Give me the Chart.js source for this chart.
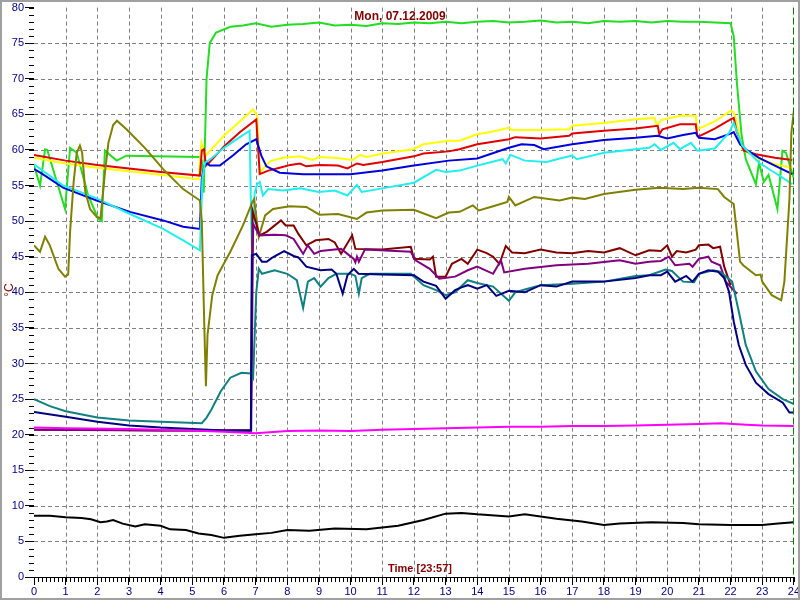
<!DOCTYPE html>
<html>
<head>
<meta charset="utf-8">
<script src="https://cdn.jsdelivr.net/npm/chart.js@4.4.1/dist/chart.umd.min.js"></script>
<style>
  html, body { margin: 0; padding: 0; background: #fff; }
  #wrap { width: 800px; height: 600px; }
</style>
</head>
<body>
<div id="wrap"><canvas id="tempChart" width="800" height="600"></canvas></div>
<script>
// Nilai: [jam, suhu °C]
const chartTitle = 'Mon, 07.12.2009';
const timeLabel = 'Time [23:57]';
const xTicks = [0, 24, 1];   // min, max, step
const yTicks = [0, 80, 5];

const greenPts = [[0,57.8],[0.19,55],[0.35,60.1],[0.42,60],[0.98,51.7],[1.14,60.3],[1.35,59.6],[1.71,53.6],[2.03,50.3],[2.14,50],[2.24,59.9],[2.61,58.5],[2.92,59.2],[3.86,59.1],[5.24,59],[5.3,58.5],[5.36,54],[5.45,70],[5.55,75],[5.75,76.5],[6.2,77.3],[6.6,77.5],[7,77.8],[7.5,77.3],[8,77.6],[8.5,77.7],[9,77.9],[9.5,77.5],[10,77.6],[10.5,77.4],[11,77.8],[11.5,77.7],[12,77.9],[12.5,77.8],[13,78],[13.5,77.8],[14,78],[14.5,78.1],[15,77.9],[15.5,78],[16,78.2],[16.5,77.9],[17,78],[17.5,77.8],[18,78.1],[18.5,78],[19,78.1],[19.5,77.9],[20,78.1],[20.5,78],[21,78],[21.5,77.9],[22,77.8],[22.1,76],[22.2,69.4],[22.35,62],[22.48,58.7],[22.8,55.2],[22.9,58.2],[23.05,55.5],[23.2,56.5],[23.48,51.7],[23.64,59.9],[23.75,59.6],[24,56]];
const yellowPts = [[0,58.9],[1,58.1],[2,57.5],[3,57],[4,56.5],[5.2,55.9],[5.29,61],[5.36,60],[5.45,59.3],[5.5,59.6],[6,62],[6.5,64],[6.92,65.7],[7.05,64.8],[7.13,56.8],[7.45,58.4],[7.86,58.9],[8.4,59.1],[8.8,58.6],[9,59],[9.5,58.9],[10.07,58.6],[10.3,59.3],[10.5,59],[11.02,59.5],[11.97,60.1],[12.3,60.8],[13.1,61.3],[13.44,61.3],[14,62.2],[14.5,62.6],[15,63.1],[15.1,62.8],[16,62.8],[16.9,62.9],[17,63.4],[18,63.8],[19,64.3],[19.6,64.5],[19.68,63.4],[19.8,64.2],[20.4,64.8],[20.9,64.8],[20.95,62.9],[21,63],[21.5,64],[22,65.5],[22.1,65.3],[22.2,63.8],[22.37,60.1],[22.8,58.9],[23.4,58],[23.95,57.5]];
const redPts = [[0,59.3],[1,58.5],[2,57.9],[3,57.4],[4,56.9],[5.24,56.4],[5.3,59.9],[5.37,60.1],[5.43,57.8],[5.55,58.3],[6,60.5],[6.5,62.5],[7.02,64.3],[7.13,56.6],[7.4,57.1],[7.76,57.5],[8.1,57.9],[8.4,58.1],[8.6,57.7],[9,57.9],[9.6,57.8],[9.9,57.4],[10.2,58.1],[10.4,57.9],[11,58.3],[12,59.1],[12.3,59.5],[13.1,59.8],[13.44,60.1],[14,60.8],[15,61.5],[15.2,61.8],[16,61.6],[16.9,62],[17,62.3],[18,62.7],[19,63],[19.7,63.4],[19.75,62.2],[19.85,62.9],[20.4,63.6],[20.9,63.6],[20.95,62],[21,61.9],[21.5,63],[22,64.3],[22.1,64.5],[22.2,62.5],[22.42,59.9],[22.8,59.4],[23.4,58.9],[23.95,58.6]];
const bluePts = [[0,57.3],[0.2,56.8],[0.92,54.7],[1.98,52.9],[3.03,51.3],[4.08,50.1],[4.71,49.2],[5.24,48.9],[5.3,56],[5.38,57.7],[5.45,58.2],[5.55,57.8],[5.87,57.8],[6.3,59.3],[6.7,60.8],[7.02,61.5],[7.18,59.2],[7.34,57.7],[7.76,56.8],[8.5,56.6],[9.2,56.6],[10,56.6],[11,57.1],[12,57.8],[13.1,58.5],[14,58.8],[15,60.3],[15.4,60.8],[15.8,60.7],[16.1,60.1],[17,60.8],[18,61.4],[19,61.7],[19.7,62],[20,61.6],[20.5,62.1],[20.9,62.4],[21,61.7],[21.5,61.5],[22,62.3],[22.1,62.5],[22.3,60.8],[22.48,60.1],[22.9,58.9],[23.4,57.8],[23.95,56.6]];
const cyanPts = [[0,58],[0.92,55],[1.98,53.2],[3.03,51],[4.08,48.9],[4.71,47.3],[5.24,45.9],[5.32,56],[5.4,58.2],[5.6,58.8],[6,60.3],[6.5,61.8],[6.81,62.7],[6.86,50],[6.89,44],[6.97,54],[7.05,55.2],[7.13,55.5],[7.23,53.6],[7.4,54.5],[7.86,54.3],[8.4,54.6],[9,54.1],[9.5,54.3],[9.9,53.6],[10.2,55.1],[10.35,54.1],[11,54.6],[12,55.4],[12.7,57.2],[13,56.9],[13.44,57.1],[14,57.8],[14.8,58.7],[14.9,58.1],[15.05,59.3],[15.5,58.5],[16.2,58.3],[16.6,58.8],[17,59.2],[17.15,58.7],[18,59.6],[19,60.1],[19.43,60.3],[19.6,60.8],[19.8,60],[20.2,61],[20.4,60.1],[20.75,61],[20.95,59.9],[21.5,60.2],[21.95,62.4],[22.1,63.8],[22.37,60.6],[22.9,58.2],[23.4,56.8],[23.95,55.2]];
const olivePts = [[0,46.6],[0.19,45.7],[0.35,47.8],[0.5,46.6],[0.77,43.3],[0.98,42.2],[1.08,42.5],[1.14,48.5],[1.25,55.4],[1.35,59.6],[1.45,60.6],[1.52,59.6],[1.62,54.1],[1.77,51.7],[1.98,50.6],[2.1,50.4],[2.24,56.8],[2.35,61],[2.5,63.5],[2.62,64.1],[2.92,62.9],[3.5,60.3],[4.08,57.3],[4.71,54.5],[5.24,52.9],[5.3,50],[5.38,35],[5.43,26.8],[5.48,34],[5.63,39.6],[5.8,42.4],[6.2,45.7],[6.6,49.4],[6.9,52.7],[6.95,53.1],[7.1,47.8],[7.3,50.8],[7.55,51.7],[8.07,52.1],[8.6,52],[9.02,50.9],[9.6,51],[10.2,50.3],[10.5,51.2],[11,51.5],[12,51.6],[12.7,50.4],[13.1,51.2],[13.44,51.3],[13.86,52.2],[14.05,51.5],[14.5,52.1],[14.95,52.7],[15,53.4],[15.2,52.2],[15.8,53.4],[16.6,52.9],[17,53.3],[17.4,53.1],[18,53.8],[19,54.4],[19.75,54.7],[20.5,54.5],[21,54.7],[21.6,54.5],[21.8,53.4],[22.1,52.4],[22.3,44.3],[22.4,43.8],[22.8,42.4],[22.95,42.5],[23,41.5],[23.3,39.6],[23.6,38.9],[23.7,41.5],[23.86,53.1],[23.92,62.4],[24,65.5]];
const maroonPts = [[0,20.7],[2,20.7],[4,20.6],[6.85,20.6],[6.9,51.5],[7.12,48],[7.35,48.5],[7.8,50.1],[7.95,49.4],[8.2,49.4],[8.35,48.2],[8.6,46.6],[8.9,47.3],[9.3,47.5],[9.5,47],[9.7,45.4],[10.05,48],[10.15,46.1],[11,46],[11.9,46.4],[12,44.7],[12.5,44.6],[12.6,45],[12.7,42.2],[13,42.2],[13.2,44],[13.5,44.7],[13.7,44],[14,46],[14.3,45.5],[14.5,45],[14.7,44],[14.9,46.5],[15.1,45.6],[15.5,45.5],[16,46],[16.5,45.6],[17,45.5],[17.5,45.8],[18,45.6],[18.5,46.2],[19,45.2],[19.43,45.9],[19.8,45.8],[20,46.6],[20.15,45],[20.3,45.8],[20.6,45.6],[20.9,46],[21,46.6],[21.3,46.7],[21.45,46.2],[21.67,46.4],[21.8,43.6],[22,41]];
const purplePts = [[0,20.7],[4,20.6],[6.86,20.6],[6.92,49.6],[7.12,48],[7.6,48.1],[7.95,48],[8.2,47.5],[8.5,45.4],[8.65,46.6],[8.85,45.4],[9.05,45.8],[9.5,46],[9.7,46.1],[10.1,44.7],[10.15,44.2],[10.2,45],[10.26,44.3],[10.45,46],[11.9,45.7],[12.05,44.5],[12.5,43.3],[12.8,41.9],[13.3,42.2],[13.7,43.1],[14,43.6],[14.5,42.6],[14.75,44.5],[14.85,42.8],[15.5,43.3],[16.5,43.8],[17.5,44],[18.5,44.5],[19,44],[19.43,44.3],[19.8,44.4],[20.05,45],[20.25,43.8],[20.7,44],[20.8,43.6],[21,44.7],[21.3,45],[21.4,44.3],[21.67,43.8],[21.85,41.5],[22.2,39.8]];
const navyPts = [[0,23.2],[1,22.5],[2,21.8],[3,21.3],[4,21],[5,20.8],[6,20.6],[6.85,20.6],[6.88,45.2],[7.02,45.4],[7.2,44.3],[7.35,44.3],[7.5,44.8],[7.9,45.8],[8.2,45.1],[8.35,44.9],[8.6,43.6],[9.05,43.1],[9.4,43.2],[9.55,42.6],[9.75,39.8],[9.9,42.4],[10.1,43.3],[10.25,42.6],[11,42.5],[12,42.4],[12.3,41.5],[12.7,40.9],[13,39.1],[13.3,40.3],[13.5,40.7],[13.7,41],[14,40.5],[14.3,41],[14.6,39.5],[15,40.2],[15.5,40],[16,41],[16.5,40.8],[17,41.5],[18,41.5],[19,42],[19.43,42.4],[19.8,42.4],[20,42.9],[20.25,41.5],[20.6,42.3],[20.8,41.5],[21,42.6],[21.3,43.1],[21.6,42.9],[21.8,42],[21.95,40.1],[22.1,35.9],[22.26,32.6],[22.48,29.8],[22.8,27.3],[23.2,25.7],[23.65,24.5],[23.86,23.1],[24,23.1]];
const tealPts = [[0,25],[0.5,24],[1,23.3],[2,22.4],[3,22],[4,21.8],[5.3,21.6],[5.45,22.4],[5.6,23.5],[5.9,26.1],[6.2,28],[6.55,28.7],[6.85,28.6],[6.92,28],[7.02,40],[7.1,43.3],[7.2,42.6],[7.6,43.1],[8,42.6],[8.3,41.7],[8.5,37.8],[8.65,41.5],[8.85,42],[9.05,40.8],[9.3,42],[9.55,42.6],[10,42.6],[10.15,42.3],[10.26,39.8],[10.35,42],[10.6,42.6],[11.9,42.6],[12.3,41],[12.7,40.3],[13,39.6],[13.3,40],[13.7,41.7],[14,41.3],[14.5,40.8],[14.7,40],[15,38.8],[15.2,40],[15.5,40.4],[16,41],[17,41.2],[18,41.5],[19,42.3],[19.43,42.4],[19.95,43.2],[20.15,43],[20.5,41.5],[20.85,41.4],[21,42.6],[21.45,43.1],[21.67,42.9],[22.05,41.5],[22.26,37.3],[22.48,32.6],[22.8,28.9],[23.2,26.4],[23.65,25],[24,24.3]];
const magentaPts = [[0,21],[1,20.9],[3,20.8],[5,20.6],[6,20.4],[7,20.2],[8,20.5],[9,20.6],[10,20.5],[11,20.7],[12,20.8],[13,20.9],[14,21],[15,21.1],[16,21.1],[17,21.2],[18,21.2],[19,21.3],[20,21.4],[21,21.5],[21.7,21.6],[22.5,21.4],[23,21.3],[24,21.2]];
const blackPts = [[0,8.6],[0.5,8.6],[1,8.4],[1.5,8.3],[1.8,8.1],[2.1,7.7],[2.3,7.8],[2.5,8],[2.8,7.5],[3.2,7.1],[3.5,7.4],[4,7.2],[4.3,6.7],[4.8,6.6],[5.2,6.1],[5.6,5.9],[6,5.5],[6.5,5.8],[7,6],[7.5,6.2],[8,6.6],[8.7,6.5],[9.5,6.8],[10.5,6.7],[11.5,7.2],[12.3,8],[13,8.9],[13.5,9],[14,8.8],[15,8.5],[15.5,8.8],[16.5,8.2],[17.3,7.8],[18,7.3],[18.5,7.5],[19.5,7.7],[20.5,7.6],[21,7.4],[22,7.3],[23,7.3],[23.5,7.5],[24,7.7]];

// Susunan: indeks 0 dilukis paling atas
const seriesList = [
    { pts: blackPts,   color: '#000000' },
    { pts: magentaPts, color: '#ff00ff' },
    { pts: navyPts,    color: '#000080' },
    { pts: tealPts,    color: '#108080' },
    { pts: purplePts,  color: '#800080' },
    { pts: maroonPts,  color: '#800000' },
    { pts: olivePts,   color: '#808000' },
    { pts: cyanPts,    color: '#22eeee' },
    { pts: bluePts,    color: '#0000dd' },
    { pts: redPts,     color: '#e00000' },
    { pts: yellowPts,  color: '#ffff00' },
    { pts: greenPts,   color: '#22dd22' }
];

const FONT = '"Liberation Sans", Arial, sans-serif';

// Grid putus-putus, tick kecil, label dan bingkai
const decorPlugin = {
    id: 'decor',
    beforeDatasetsDraw(chart) {
        const { ctx, chartArea: a, scales: { x, y } } = chart;
        ctx.save();
        ctx.strokeStyle = '#808080';
        ctx.lineWidth = 1;
        ctx.setLineDash([4, 3]);
        for (let h = xTicks[0] + xTicks[2]; h < xTicks[1]; h += xTicks[2]) {
            const px = Math.round(x.getPixelForValue(h)) + 0.5;
            ctx.beginPath(); ctx.moveTo(px, a.top); ctx.lineTo(px, a.bottom); ctx.stroke();
        }
        for (let v = yTicks[0] + yTicks[2]; v < yTicks[1]; v += yTicks[2]) {
            const py = Math.round(y.getPixelForValue(v)) + 0.5;
            ctx.beginPath(); ctx.moveTo(a.left, py); ctx.lineTo(a.right, py); ctx.stroke();
        }
        ctx.restore();
    },
    afterDraw(chart) {
        const { ctx, chartArea: a, scales: { x, y } } = chart;
        ctx.save();
        // garis paksi x
        ctx.strokeStyle = '#000';
        ctx.lineWidth = 1;
        ctx.beginPath();
        ctx.moveTo(a.left, a.bottom + 0.5); ctx.lineTo(a.right, a.bottom + 0.5);
        ctx.stroke();
        // tick kecil
        ctx.beginPath();
        for (let v = yTicks[0]; v <= yTicks[1]; v += 1) {
            const py = Math.round(y.getPixelForValue(v)) + 0.5;
            ctx.moveTo(a.left - 5, py); ctx.lineTo(a.left, py);
        }
        for (let h = xTicks[0]; h <= xTicks[1]; h += 0.125) {
            const px = Math.round(x.getPixelForValue(h)) + 0.5;
            ctx.moveTo(px, a.bottom); ctx.lineTo(px, a.bottom + 5);
        }
        ctx.stroke();
        // penanda masa semasa
        ctx.strokeStyle = '#008000';
        ctx.setLineDash([7, 3]);
        const mx = Math.round(x.getPixelForValue(24)) - 0.5;
        ctx.beginPath(); ctx.moveTo(mx, a.top); ctx.lineTo(mx, a.bottom); ctx.stroke();
        ctx.setLineDash([]);
        // tajuk & label
        ctx.fillStyle = '#800000';
        ctx.textAlign = 'center';
        ctx.textBaseline = 'middle';
        ctx.font = 'bold 12px ' + FONT;
        ctx.fillText(chartTitle, 400, 17);
        ctx.font = 'bold 11px ' + FONT;
        ctx.fillText(timeLabel, 420, 569);
        ctx.translate(10, 290);
        ctx.rotate(-Math.PI / 2);
        ctx.font = '12px ' + FONT;
        ctx.fillText('°C', 0, 0);
        ctx.restore();
        // bingkai luar
        ctx.save();
        ctx.strokeStyle = '#a0a0a0';
        ctx.lineWidth = 2;
        ctx.strokeRect(1, 1, 798, 598);
        ctx.restore();
    }
};

document.addEventListener('DOMContentLoaded', () => {
    const ctx = document.getElementById('tempChart');
    new Chart(ctx, {
        type: 'line',
        data: {
            datasets: seriesList.map(s => ({
                data: s.pts.map(p => ({ x: p[0], y: p[1] })),
                borderColor: s.color,
                borderWidth: 2,
                pointRadius: 0,
                fill: false,
                tension: 0
            }))
        },
        options: {
            responsive: false,
            animation: false,
            events: [],
            layout: { padding: { top: 4, right: 5, left: 0, bottom: 0 } },
            plugins: {
                legend: { display: false },
                tooltip: { enabled: false },
                title: { display: false }
            },
            scales: {
                x: {
                    type: 'linear',
                    min: xTicks[0], max: xTicks[1],
                    afterFit: s => { s.height = 23; },
                    border: { display: false },
                    grid: { display: true, drawOnChartArea: false, drawTicks: true, tickLength: 8, tickColor: '#000' },
                    ticks: {
                        stepSize: xTicks[2], autoSkip: false, maxRotation: 0, padding: 0,
                        color: '#000080', font: { family: FONT, size: 11 }
                    }
                },
                y: {
                    min: yTicks[0], max: yTicks[1],
                    afterFit: s => { s.width = 34; },
                    border: { display: false },
                    grid: { display: true, drawOnChartArea: false, drawTicks: true, tickLength: 9, tickColor: '#000' },
                    ticks: {
                        stepSize: yTicks[2], padding: 1,
                        color: '#000080', font: { family: FONT, size: 11 }
                    }
                }
            }
        },
        plugins: [decorPlugin]
    });
});
</script>
</body>
</html>
